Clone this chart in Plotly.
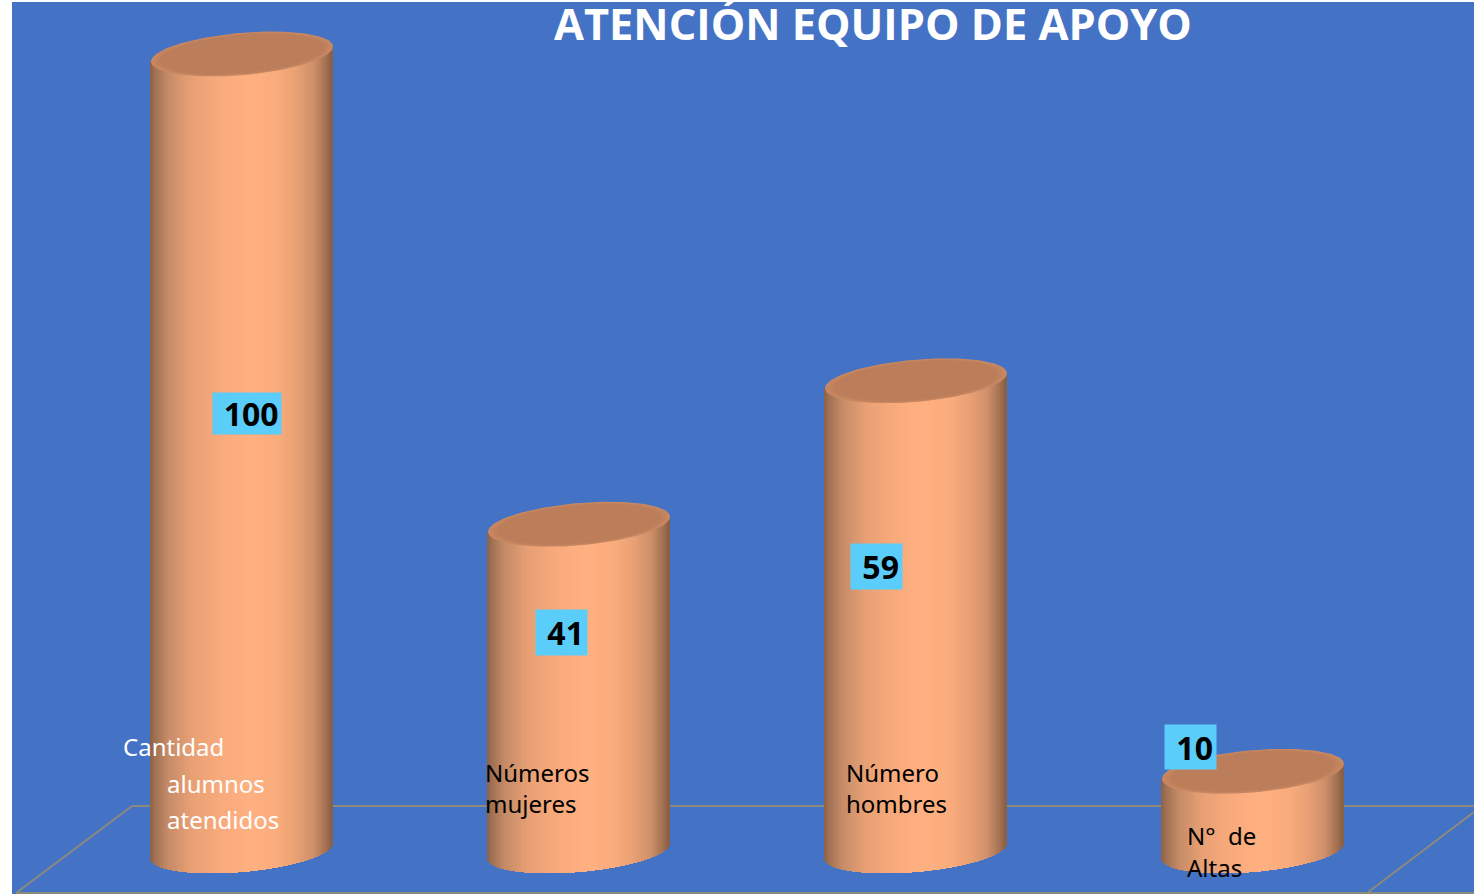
"""Cylinder chart: atencion equipo de apoyo"""
import numpy as np
import plotly.graph_objects as go

categories = ["Cantidad alumnos atendidos", "Números mujeres", "Número hombres", "N° de Altas"]
values = [100, 41, 59, 10]

title = "ATENCIÓN EQUIPO DE APOYO"

# plot area in the 1474x894 window
PLOT_LEFT, PLOT_RIGHT = 12, 1474
PLOT_TOP, PLOT_BOTTOM = 2, 894
PX_PER_CAT = 337
PX_PER_UNIT = 7.97
ZERO_X = 242
ZERO_Y = 851

HALF_WIDTH = 91 / PX_PER_CAT
TILT = 7.5 / PX_PER_UNIT
BULGE = 21.2 / PX_PER_UNIT
N_STRIPS = 182

BG = "#4472c4"
CAP_RINGS = [(1.0, "#c98a63"), (0.98, "#c58661"), (0.95, "#c1825d"), (0.91, "#bc7e5a")]
LABEL_BOX = "#5bcdfa"
FLOOR = "#8c8a7c"

# side shading, left edge to right edge
shade_pos = [-1.0, -0.95, -0.8, -0.55, -0.25, 0.1, 0.4, 0.62, 0.8, 0.93, 1.0]
shade_rgb = [
    (140, 98, 72), (160, 112, 82), (198, 140, 104), (232, 160, 116), (248, 170, 124),
    (255, 177, 130), (250, 172, 124), (232, 160, 116), (206, 144, 106), (165, 114, 84), (135, 94, 68),
]


def to_x(px):
    return (px - ZERO_X) / PX_PER_CAT


def to_y(px):
    return (ZERO_Y - px) / PX_PER_UNIT


def shade(u):
    rgb = [np.interp(u, shade_pos, [c[i] for c in shade_rgb]) for i in range(3)]
    return "rgb(%d,%d,%d)" % tuple(rgb)


u = np.linspace(-1, 1, N_STRIPS, endpoint=False) + 1 / N_STRIPS
strip_colors = [shade(v) for v in u]

fig = go.Figure()

# cylinder sides, one thin bar per strip
for i, val in enumerate(values):
    base = TILT * u - BULGE * np.sqrt(1 - u ** 2)
    top = val + TILT * u
    fig.add_trace(go.Bar(
        x=i + u * HALF_WIDTH,
        y=top - base,
        base=base,
        width=2.6 * HALF_WIDTH / N_STRIPS,
        marker=dict(color=strip_colors, line=dict(width=0)),
        hoverinfo="skip",
        showlegend=False,
    ))

# top caps
t = np.linspace(0, 2 * np.pi, 181)
for i, val in enumerate(values):
    for scale, color in CAP_RINGS:
        fig.add_trace(go.Scatter(
            x=i + scale * HALF_WIDTH * np.cos(t),
            y=val + scale * (TILT * np.cos(t) + BULGE * np.sin(t)),
            mode="lines",
            fill="toself",
            fillcolor=color,
            line=dict(width=0, color=color),
            hoverinfo="skip",
            showlegend=False,
        ))

# floor of the 3D box
floor_y = to_y(806)
bottom_y = to_y(893)
floor_segments = [
    (to_x(132), floor_y, to_x(1474), floor_y),
    (to_x(132), floor_y, to_x(16), bottom_y),
    (to_x(1474), to_y(812), to_x(1367), bottom_y),
    (to_x(16), bottom_y, to_x(1474), bottom_y),
]
shapes = [
    dict(type="line", layer="below", x0=a, y0=b, x1=c, y1=d, line=dict(color=FLOOR, width=2))
    for a, b, c, d in floor_segments
]

annotations = []

# category labels, placed line by line as in the original
label_lines = [
    ("Cantidad", 122, 746, "white"),
    ("alumnos", 166, 783, "white"),
    ("atendidos", 166, 819, "white"),
    ("Números", 484, 772, "black"),
    ("mujeres", 484, 803, "black"),
    ("Número", 845, 772, "black"),
    ("hombres", 845, 803, "black"),
    ("N°  de", 1186, 835, "black"),
    ("Altas", 1186, 867, "black"),
]
for text, px, py, color in label_lines:
    annotations.append(dict(
        x=to_x(px), y=to_y(py), text=text, showarrow=False, xanchor="left", yanchor="middle",
        font=dict(family="Noto Sans", size=24, color=color), borderpad=0,
    ))

# value labels with their blue boxes
box_left = [213, 536, 851, 1165]
box_right = [281, 587, 902, 1216]
box_top = [393, 610, 544, 725]
box_bottom = [434, 655, 589, 769]
for val, l, r, b_top, b_bot in zip(values, box_left, box_right, box_top, box_bottom):
    # the leading space nudges the digits right inside the box, as in the original
    annotations.append(dict(
        x=to_x((l + r) / 2), y=to_y((b_top + b_bot) / 2), text="<b>&nbsp;%d</b>" % val, showarrow=False,
        width=r - l, height=b_bot - b_top, bgcolor=LABEL_BOX, align="center", valign="middle", borderpad=0,
        font=dict(family="Open Sans", size=32, color="black"),
    ))

annotations.append(dict(
    x=to_x(873), y=to_y(23), text="<b>%s</b>" % title, showarrow=False,
    font=dict(family="Open Sans", size=43.4, color="white"),
))

fig.update_layout(
    width=1474,
    height=894,
    margin=dict(l=PLOT_LEFT, r=0, t=PLOT_TOP, b=0),
    paper_bgcolor="white",
    plot_bgcolor=BG,
    barmode="overlay",
    bargap=0,
    showlegend=False,
    shapes=shapes,
    annotations=annotations,
    xaxis=dict(visible=False, range=[to_x(PLOT_LEFT), to_x(PLOT_RIGHT)], fixedrange=True),
    yaxis=dict(visible=False, range=[to_y(PLOT_BOTTOM), to_y(PLOT_TOP)], fixedrange=True),
)

# the page's default body margin would push the chart 8px off the window
fig.write_html("out.html", config=dict(displayModeBar=False),
               post_script="document.body.style.margin='0';document.documentElement.style.overflow='hidden';")
